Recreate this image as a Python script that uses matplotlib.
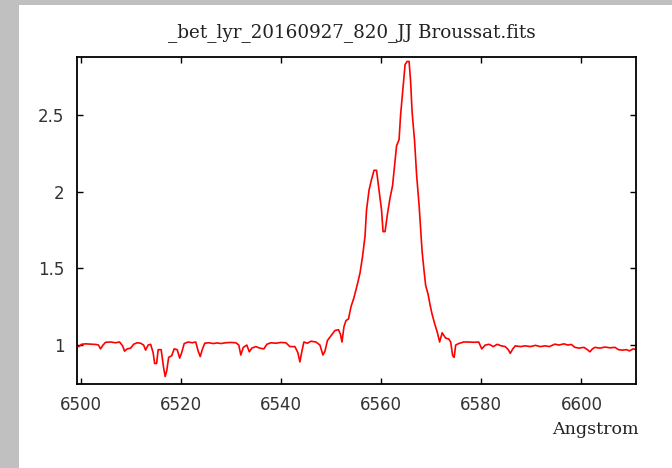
import matplotlib
matplotlib.use("Agg")
import matplotlib.pyplot as plt
from matplotlib.patches import Rectangle

# spectrum (Angstrom, relative flux)
wave = [6499.7, 6500.2, 6501, 6502, 6503, 6503.6, 6504.0, 6504.5, 6505, 6506,
        6507, 6507.8, 6508.4, 6508.8, 6509.3, 6510, 6510.6, 6511.3, 6512, 6512.6,
        6513, 6513.5, 6514, 6514.5, 6514.8, 6515.2, 6515.5, 6516.1, 6516.6, 6516.9,
        6517.2, 6517.6, 6518.2, 6518.7, 6519.3, 6519.8, 6520.2, 6520.7, 6521.5, 6522.3,
        6523, 6523.5, 6523.9, 6524.3, 6524.8, 6525.6, 6526.5, 6527.3, 6528, 6529,
        6530, 6531, 6531.6, 6532, 6532.5, 6533.2, 6533.7, 6534.2, 6535, 6535.8,
        6536.6, 6537.2, 6538, 6539, 6540, 6541, 6541.8, 6542.8, 6543.4, 6543.8,
        6544.2, 6544.6, 6545.3, 6546, 6547, 6547.8, 6548.4, 6548.8, 6549.3, 6550,
        6550.8, 6551.5, 6551.9, 6552.2, 6552.6, 6553, 6553.5, 6554, 6554.6, 6555.3,
        6555.8, 6556.3, 6556.8, 6557.1, 6557.6, 6558.1, 6558.6, 6559.1, 6559.6, 6560.1,
        6560.4, 6560.8, 6561.3, 6561.8, 6562.3, 6562.7, 6563.1, 6563.6, 6563.9, 6564.4,
        6564.8, 6565.2, 6565.6, 6565.9, 6566.2, 6566.7, 6567.1, 6567.6, 6567.9, 6568.2,
        6568.6, 6568.9, 6569.4, 6569.8, 6570.2, 6570.7, 6571.2, 6571.7, 6572.2, 6572.9,
        6573.5, 6573.9, 6574.3, 6574.6, 6574.9, 6575.5, 6576.5, 6577.5, 6578.5, 6579.5,
        6580.1, 6580.8, 6581.6, 6582.4, 6583.2, 6584, 6584.8, 6585.4, 6585.8, 6586.3,
        6586.8, 6587.8, 6588.8, 6589.8, 6590.8, 6591.8, 6592.8, 6593.6, 6594.7, 6595.5,
        6596.5, 6597.3, 6598, 6598.7, 6599.5, 6600.5, 6601.2, 6601.7, 6602.2, 6602.7,
        6603.7, 6604.7, 6605.7, 6606.7, 6607.4, 6608.2, 6609, 6609.6, 6610.3, 6610.8]
flux = [0.99, 1.005, 1.008, 1.006, 1.004, 1.0, 0.975, 1.0, 1.018, 1.02,
        1.015, 1.02, 0.995, 0.96, 0.975, 0.98, 1.005, 1.015, 1.012, 1.0,
        0.967, 1.0, 1.005, 0.95, 0.88, 0.88, 0.97, 0.97, 0.85, 0.795,
        0.83, 0.92, 0.93, 0.975, 0.97, 0.915, 0.95, 1.01, 1.02, 1.015,
        1.02, 0.96, 0.925, 0.97, 1.012, 1.015, 1.01, 1.014, 1.01, 1.015,
        1.017, 1.015, 1.0, 0.935, 0.985, 1.0, 0.956, 0.98, 0.99, 0.98,
        0.975, 1.005, 1.015, 1.012, 1.017, 1.015, 0.99, 0.99, 0.95, 0.89,
        0.96, 1.02, 1.012, 1.025, 1.02, 1.0, 0.935, 0.96, 1.03, 1.06,
        1.095, 1.1, 1.07, 1.02, 1.12, 1.16, 1.17, 1.25, 1.31, 1.40,
        1.47, 1.576, 1.71, 1.88, 2.01, 2.08, 2.14, 2.14, 2.01, 1.88,
        1.74, 1.74, 1.86, 1.96, 2.04, 2.17, 2.30, 2.34, 2.50, 2.68,
        2.83, 2.85, 2.85, 2.72, 2.52, 2.33, 2.11, 1.91, 1.76, 1.61,
        1.48, 1.39, 1.33, 1.26, 1.20, 1.14, 1.087, 1.02, 1.08, 1.045,
        1.04, 1.02, 0.93, 0.92, 1.0, 1.01, 1.02, 1.02, 1.018, 1.02,
        0.975, 1.0, 1.005, 0.99, 1.005, 0.995, 0.99, 0.97, 0.946, 0.975,
        0.995, 0.99, 0.995, 0.99, 0.998, 0.99, 0.995, 0.99, 1.006, 1.0,
        1.008, 1.0, 1.004, 0.985, 0.98, 0.985, 0.97, 0.956, 0.975, 0.985,
        0.98, 0.987, 0.982, 0.985, 0.97, 0.967, 0.97, 0.962, 0.975, 0.972]

xticks = [6500, 6520, 6540, 6560, 6580, 6600]
yticks = [1, 1.5, 2, 2.5]
ytick_labels = ["1", "1.5", "2", "2.5"]

fig = plt.figure(figsize=(6.72, 4.68), dpi=100, facecolor="#c0c0c0")
fig.patches.append(Rectangle((19 / 672, 0), 1 - 19 / 672, 1 - 5 / 468,
                             transform=fig.transFigure, facecolor="white",
                             edgecolor="none", zorder=-10))

ax = fig.add_axes([77 / 672, 1 - 384 / 468, (636 - 77) / 672, (384 - 57) / 468])
ax.plot(wave, flux, color="#ff0000", lw=1.2)
ax.set_xlim(6499.3, 6610.9)
ax.set_ylim(0.746, 2.879)
ax.set_xticks(xticks)
ax.set_yticks(yticks)
ax.set_yticklabels(ytick_labels)
ax.tick_params(direction="in", length=4, width=1, top=True, right=True,
               labelsize=12, labelcolor="#333333", pad=9)
for s in ax.spines.values():
    s.set_linewidth(1.3)

fig.text(0.524, 1 - 33 / 468, "_bet_lyr_20160927_820_JJ Broussat.fits",
         ha="center", va="center", family="DejaVu Serif", fontsize=13.2,
         color="#222222")
fig.text(639 / 672, 1 - 429 / 468, "Angstrom", ha="right", va="center",
         family="DejaVu Serif", fontsize=12.6, color="#222222")

fig.savefig("out.png", dpi=100, facecolor=fig.get_facecolor())
